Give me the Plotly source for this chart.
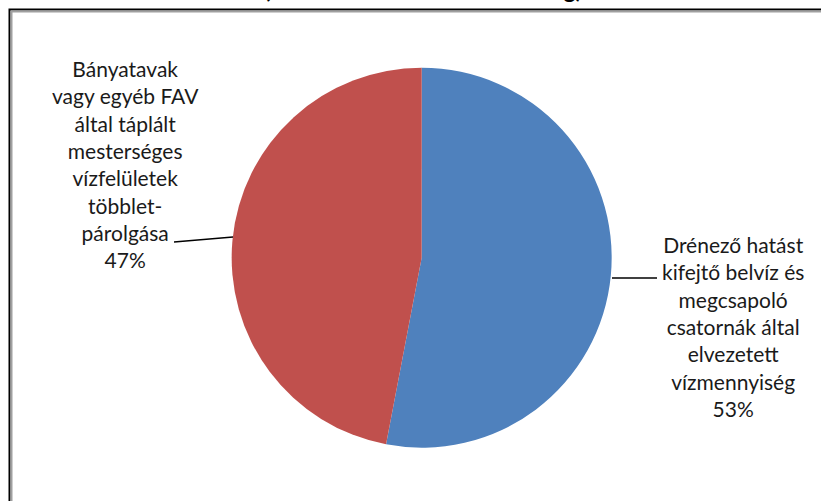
import plotly.graph_objects as go

labels = [
    "Drénező hatást<br>kifejtő belvíz és<br>megcsapoló<br>csatornák által<br>elvezetett<br>vízmennyiség",
    "Bányatavak<br>vagy egyéb FAV<br>által táplált<br>mesterséges<br>vízfelületek<br>többlet-<br>párolgása",
]
values = [53, 47]
colors = ["#4F81BD", "#C0504D"]
title_text = "(A felszíni vízkészlet-veszteség)"

W, H = 821, 501
FONT = "Lato"

def px(x):
    return x / W

def py(y):
    return (H - y) / H

fig = go.Figure(go.Pie(
    labels=labels,
    values=values,
    sort=False,
    direction="clockwise",
    rotation=0,
    marker=dict(colors=colors, line=dict(color="white", width=0)),
    textinfo="none",
    hoverinfo="label+percent",
    showlegend=False,
    domain=dict(x=[0.2636, 0.7636], y=[0.1064, 0.8649]),
))

total = sum(values)
pcts = [round(v * 100 / total) for v in values]

annotations = [
    dict(text=f"{labels[0]}<br>{pcts[0]}%", x=px(733), y=py(326), xref="paper", yref="paper",
         showarrow=False, xanchor="center", yanchor="middle", align="center",
         font=dict(family=FONT, size=21, color="#1a1a1a")),
    dict(text=f"{labels[1]}<br>{pcts[1]}%", x=px(125), y=py(164), xref="paper", yref="paper",
         showarrow=False, xanchor="center", yanchor="middle", align="center",
         font=dict(family=FONT, size=21, color="#1a1a1a")),
    dict(text=f"<b>{title_text}</b>", x=px(423), y=py(5.5), xref="paper", yref="paper",
         showarrow=False, xanchor="center", yanchor="bottom",
         font=dict(family=FONT, size=23, color="#000000")),
]

shapes = [
    dict(type="line", xref="paper", yref="paper", x0=px(612), y0=py(278), x1=px(657), y1=py(278),
         line=dict(color="#000000", width=1.5)),
    dict(type="line", xref="paper", yref="paper", x0=px(174), y0=py(242), x1=px(233), y1=py(237),
         line=dict(color="#000000", width=1.5)),
    dict(type="rect", xref="paper", yref="paper", x0=px(9.5), y0=py(9.5), x1=px(W + 20), y1=py(H + 20),
         line=dict(color="#000000", width=2)),
    dict(type="rect", xref="paper", yref="paper", x0=px(11.5), y0=py(11.5), x1=px(W + 20), y1=py(H + 20),
         line=dict(color="#A0A0A0", width=2)),
]

fig.update_layout(
    width=W, height=H,
    margin=dict(l=0, r=0, t=0, b=0),
    paper_bgcolor="white",
    plot_bgcolor="white",
    annotations=annotations,
    shapes=shapes,
)

fig.write_html("out.html", config={"displayModeBar": False},
               post_script="document.body.style.margin='0';document.body.style.overflow='hidden';")
